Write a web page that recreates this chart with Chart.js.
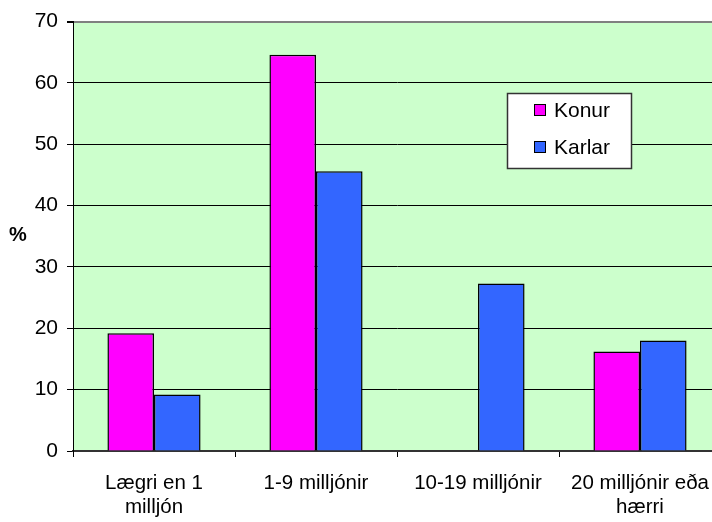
<!DOCTYPE html>
<html>
<head>
<meta charset="utf-8">
<script src="https://cdn.jsdelivr.net/npm/chart.js@4/dist/chart.umd.min.js"></script>
<style>
  html, body { margin: 0; padding: 0; background: #fff; overflow: hidden; }
  #wrap { width: 724px; height: 522px; }
</style>
</head>
<body>
<div id="wrap"><canvas id="c" width="724" height="522"></canvas></div>
<script>
// ===== data =====
const categories = [['Lægri en 1', 'milljón'], '1-9 milljónir', '10-19 milljónir', ['20 milljónir eða', 'hærri']];
const konur = [19.2, 64.6, 0, 16.2];
const karlar = [9.2, 45.6, 27.3, 18.0];
const yTicks = [0, 10, 20, 30, 40, 50, 60, 70];
const yTitle = '%';

const FONT = '"Liberation Sans", Arial, sans-serif';

// green plot background
const plotBg = {
  id: 'plotBg',
  beforeDraw(chart) {
    const { ctx, chartArea: a } = chart;
    ctx.save();
    ctx.fillStyle = '#CCFFCC';
    ctx.fillRect(a.left, a.top, a.right - a.left, a.bottom - a.top);
    ctx.restore();
  }
};

// "%" label + boxed legend inside the plot
const extras = {
  id: 'extras',
  afterDraw(chart) {
    const { ctx } = chart;
    ctx.save();
    ctx.fillStyle = '#000';
    ctx.font = 'bold 20px ' + FONT;
    ctx.textAlign = 'center';
    ctx.textBaseline = 'middle';
    ctx.fillText(yTitle, 18, 235);

    // legend box
    ctx.fillStyle = '#fff';
    ctx.fillRect(507, 93, 125, 76);
    ctx.strokeStyle = '#333';
    ctx.lineWidth = 1.5;
    ctx.strokeRect(507.5, 93.5, 124, 75);

    ctx.font = '21px ' + FONT;
    ctx.textAlign = 'left';
    chart.data.datasets.forEach((ds, i) => {
      const cy = 110 + i * 37;
      ctx.fillStyle = ds.backgroundColor;
      ctx.fillRect(534, cy - 6, 12, 12);
      ctx.strokeStyle = '#000';
      ctx.lineWidth = 1;
      ctx.strokeRect(534.5, cy - 5.5, 11, 11);
      ctx.fillStyle = '#000';
      ctx.fillText(ds.label, 554, cy + 1);
    });
    ctx.restore();
  }
};

new Chart(document.getElementById('c'), {
  type: 'bar',
  data: {
    labels: categories,
    datasets: [
      { label: 'Konur', data: konur, backgroundColor: '#FF00FF', borderColor: '#000', borderWidth: 1.5 },
      { label: 'Karlar', data: karlar, backgroundColor: '#3366FF', borderColor: '#000', borderWidth: 1.5 }
    ]
  },
  options: {
    responsive: false,
    animation: false,
    devicePixelRatio: 1,
    layout: { padding: { top: 21, right: 3, left: 0, bottom: 0 } },
    datasets: { bar: { categoryPercentage: 0.575, barPercentage: 1 } },
    plugins: { legend: { display: false }, tooltip: { enabled: false } },
    scales: {
      x: {
        afterFit(s) { s.height = 71; },
        grid: { offset: true, drawOnChartArea: false, color: '#000', tickLength: 6 },
        border: { color: '#333', width: 2 },
        ticks: { color: '#000', font: { family: FONT, size: 20.5, lineHeight: 1.17 }, padding: 14, maxRotation: 0, autoSkip: false }
      },
      y: {
        min: 0, max: 70,
        afterFit(s) { s.width = 73; },
        afterBuildTicks(s) { s.ticks = yTicks.map(v => ({ value: v })); },
        grid: {
          color: ctx => (ctx.tick && ctx.tick.value === 70 ? '#808080' : '#000'),
          lineWidth: ctx => (ctx.tick && ctx.tick.value === 70 ? 2 : 1),
          tickColor: '#000',
          tickLength: 6
        },
        border: { color: '#000', width: 1 },
        ticks: { color: '#000', font: { family: FONT, size: 21 }, padding: 9 }
      }
    }
  },
  plugins: [plotBg, extras]
});
</script>
</body>
</html>
